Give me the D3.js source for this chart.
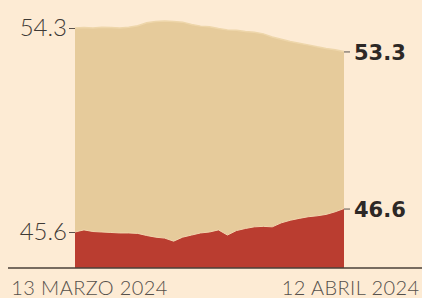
<!DOCTYPE html>
<html>
<head>
<meta charset="utf-8">
<script src="https://cdn.jsdelivr.net/npm/d3@7"></script>
<style>
  body { margin: 0; background: #fdebd4; }
  svg { display: block; }
</style>
</head>
<body>
<div id="chart"></div>
<script>
// daily values, 13 March -> 12 April 2024
const startDate = new Date(2024, 2, 13);
const topSeries = [54.3, 54.32, 54.3, 54.33, 54.32, 54.3, 54.33, 54.4, 54.52, 54.58, 54.6,
  54.58, 54.55, 54.45, 54.38, 54.35, 54.28, 54.22, 54.2, 54.15, 54.12, 54.05, 53.92, 53.82,
  53.72, 53.65, 53.58, 53.5, 53.43, 53.37, 53.3];
const bottomSeries = [45.6, 45.69, 45.62, 45.6, 45.58, 45.56, 45.56, 45.54, 45.45, 45.38, 45.34,
  45.21, 45.38, 45.47, 45.56, 45.6, 45.69, 45.47, 45.66, 45.75, 45.82, 45.84, 45.82, 45.99,
  46.1, 46.18, 46.25, 46.29, 46.35, 46.46, 46.6];
const leftTicks = [45.6, 54.3];
const rightTicks = [46.6, 53.3];
const xLabels = ['13 MARZO 2024', '12 ABRIL 2024'];

const w = 422;
const h = 298;
const left = 75;
const right = 344;
const base = 268;

const dates = topSeries.map((d, i) => d3.timeDay.offset(startDate, i));
const data = dates.map((d, i) => ({ date: d, top: topSeries[i], bottom: bottomSeries[i] }));

const scaleX = d3.scaleTime().domain(d3.extent(dates)).range([left, right]);
const scaleY = d3.scaleLinear().domain([45.6, 54.3]).range([232, 28]);

const svg = d3.select('#chart').append('svg').attr('width', w).attr('height', h);
svg.append('rect').attr('width', w).attr('height', h).attr('fill', '#fdebd4');

const topArea = d3.area().x((d) => scaleX(d.date)).y0(base).y1((d) => scaleY(d.top));
const bottomArea = d3.area().x((d) => scaleX(d.date)).y0(base).y1((d) => scaleY(d.bottom));

svg.append('path').datum(data).attr('d', topArea).attr('fill', '#e6cb9b');
svg.append('path').datum(data)
  .attr('d', d3.line().x((d) => scaleX(d.date)).y((d) => scaleY(d.top)))
  .attr('fill', 'none').attr('stroke', '#eed6aa').attr('stroke-width', 1.5);
svg.append('path').datum(data).attr('d', bottomArea).attr('fill', '#ba3d30');
svg.append('path').datum(data)
  .attr('d', d3.line().x((d) => scaleX(d.date)).y((d) => scaleY(d.bottom)))
  .attr('fill', 'none').attr('stroke', '#f1d6ae').attr('stroke-width', 1);

// baseline
svg.append('line').attr('x1', 8).attr('x2', w).attr('y1', base).attr('y2', base)
  .attr('stroke', '#4a4038').attr('stroke-width', 1.5);

const axisL = d3.axisLeft(scaleY).tickValues(leftTicks).tickSize(6).tickPadding(2)
  .tickFormat(d3.format('.1f'));
const gl = svg.append('g').attr('transform', `translate(${left},0)`).call(axisL);
gl.select('.domain').remove();
gl.selectAll('line').attr('stroke', '#5a524c');
gl.selectAll('text').attr('font-family', 'Lato, sans-serif').attr('font-weight', 300)
  .attr('font-size', 24).attr('fill', '#3f3a36');

const axisR = d3.axisRight(scaleY).tickValues(rightTicks).tickSize(6).tickPadding(4)
  .tickFormat(d3.format('.1f'));
const gr = svg.append('g').attr('transform', `translate(${right},0)`).call(axisR);
gr.select('.domain').remove();
gr.selectAll('line').attr('stroke', '#5a524c');
gr.selectAll('text').attr('font-family', '"DejaVu Sans", sans-serif').attr('font-weight', 'bold')
  .attr('font-size', 21).attr('fill', '#2d2826').attr('dy', '0.4em');

const axisB = d3.axisBottom(scaleX).tickValues([dates[0], dates[dates.length - 1]])
  .tickSize(0).tickPadding(13).tickFormat((d, i) => xLabels[i]);
const gb = svg.append('g').attr('transform', `translate(0,${base})`).call(axisB);
gb.select('.domain').remove();
gb.selectAll('text').attr('font-family', 'Lato, sans-serif').attr('font-weight', 300)
  .attr('font-size', 20).attr('letter-spacing', 0.4).attr('fill', '#55504b')
  .attr('text-anchor', (d, i) => (i === 0 ? 'middle' : 'end'))
  .attr('dx', (d, i) => (i === 0 ? 14 : 75));
</script>
</body>
</html>
